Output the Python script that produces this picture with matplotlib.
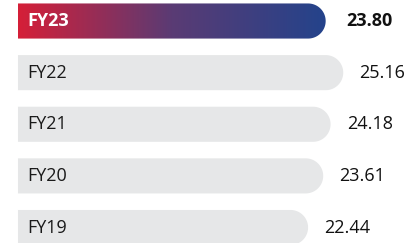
import numpy as np
import matplotlib
matplotlib.use('Agg')
import matplotlib.pyplot as plt
from matplotlib.path import Path
from matplotlib.patches import PathPatch
from matplotlib.colors import LinearSegmentedColormap

plt.rcParams['font.family'] = ['Open Sans', 'DejaVu Sans']

years = ['FY23', 'FY22', 'FY21', 'FY20', 'FY19']
values = [23.80, 25.16, 24.18, 23.61, 22.44]
highlight = 'FY23'

GRAY = '#e6e7e8'
grad = LinearSegmentedColormap.from_list('fy', ['#d51f38', '#5a3b74', '#24438b'])

W, H = 411, 243
fig = plt.figure(figsize=(W / 100, H / 100), dpi=100)
ax = fig.add_axes([0, 0, 1, 1])
ax.set_xlim(-1.39, 30.4)
ax.set_ylim(4.30, -0.407)
ax.axis('off')

bar_h = 0.68
# pixel scale, used to keep the rounded end circular
px_x = W / (30.4 + 1.39)
px_y = H / (4.30 + 0.407)
rx = (bar_h / 2) * px_y / px_x


def pill_path(y, v, hh):
    t = np.linspace(-np.pi / 2, np.pi / 2, 40)
    xs = v - rx + rx * np.cos(t)
    ys = y + hh * np.sin(t)
    verts = [(0, y - hh)] + list(zip(xs, ys)) + [(0, y + hh), (0, y - hh)]
    codes = [Path.MOVETO] + [Path.LINETO] * (len(verts) - 2) + [Path.CLOSEPOLY]
    return Path(verts, codes)


for i, (yr, v) in enumerate(zip(years, values)):
    hh = bar_h / 2
    path = pill_path(i, v, hh)
    if yr == highlight:
        patch = PathPatch(path, facecolor='none', edgecolor='none')
        ax.add_patch(patch)
        im = ax.imshow(np.linspace(0, 1, 256).reshape(1, -1), cmap=grad,
                       aspect='auto', extent=(0, v, i + hh, i - hh),
                       interpolation='bicubic')
        im.set_clip_path(patch)
        ax.text(0.7, i, yr, color='white', fontsize=13, fontweight='bold',
                va='center', ha='left')
        ax.annotate(f'{v:.2f}', (v, i), xytext=(67, 0), textcoords='offset pixels',
                    ha='right', va='center', fontsize=13, fontweight='bold',
                    color='#111111')
    else:
        ax.add_patch(PathPatch(path, facecolor=GRAY, edgecolor='none'))
        ax.text(0.7, i, yr, color='#1a1a1a', fontsize=13,
                va='center', ha='left')
        ax.annotate(f'{v:.2f}', (v, i), xytext=(62, 0), textcoords='offset pixels',
                    ha='right', va='center', fontsize=13, color='#111111')

ax.set_xlim(-1.39, 30.4)
ax.set_ylim(4.30, -0.407)
fig.savefig('out.png', dpi=100, facecolor='white')
